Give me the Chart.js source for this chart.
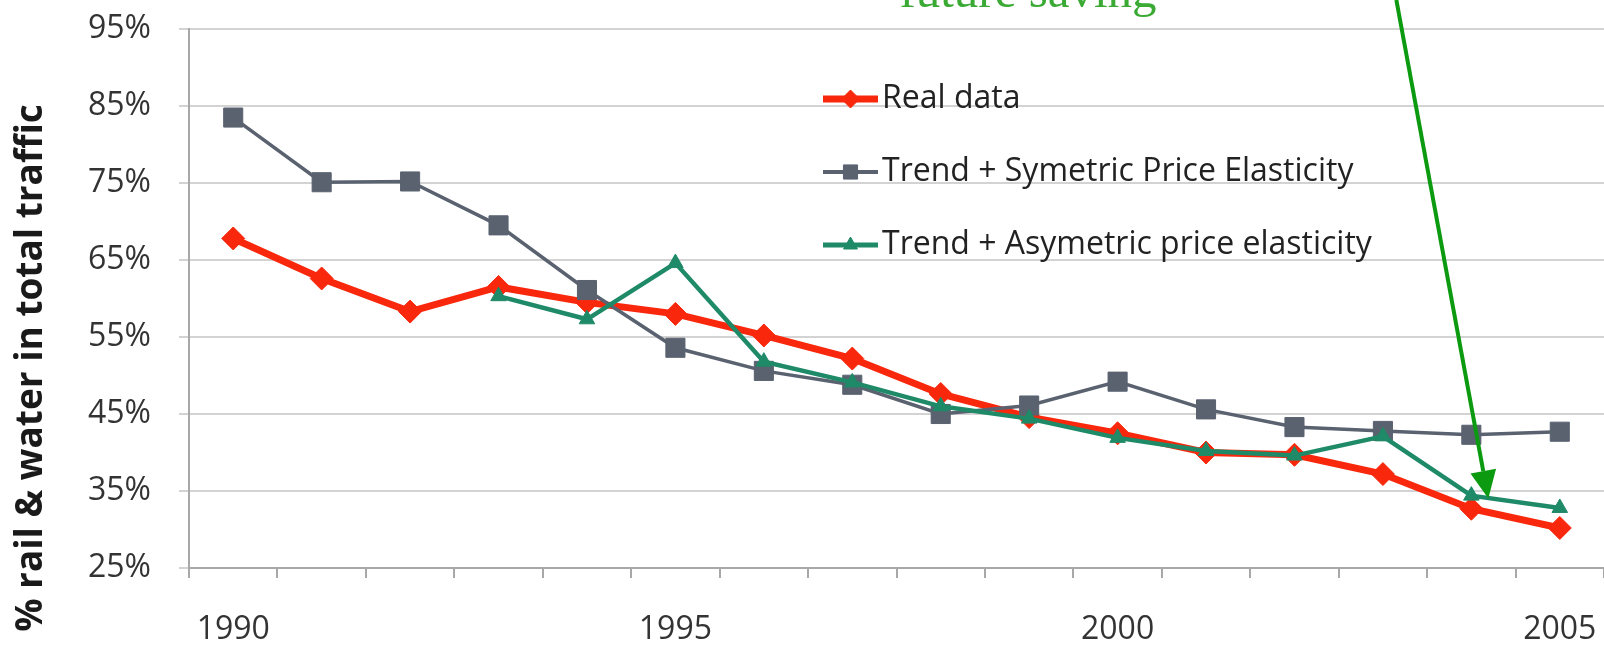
<!DOCTYPE html>
<html>
<head>
<meta charset="utf-8">
<title>Rail & water share of total traffic</title>
<script src="https://cdn.jsdelivr.net/npm/chart.js@4/dist/chart.umd.min.js"></script>
<style>
  html, body { margin: 0; padding: 0; background: #ffffff; }
  #wrap { width: 1604px; height: 648px; position: relative; }
</style>
</head>
<body>
<div id="wrap"><canvas id="chart" width="1604" height="648"></canvas></div>
<script>
// Years on the horizontal axis
const years = ['1990','1991','1992','1993','1994','1995','1996','1997',
               '1998','1999','2000','2001','2002','2003','2004','2005'];
// Years that carry a printed label
const labeledYears = ['1990', '1995', '2000', '2005'];

// Share of rail & water in total traffic (%)
const realData = [67.8, 62.6, 58.3, 61.5, 59.5, 58.0, 55.2, 52.2,
                  47.6, 44.6, 42.5, 40.0, 39.7, 37.2, 32.7, 30.2];
const symmetricElasticity = [83.5, 75.1, 75.2, 69.5, 61.1, 53.6, 50.6, 48.8,
                             45.0, 46.1, 49.2, 45.6, 43.3, 42.8, 42.3, 42.7];
const asymmetricElasticity = [null, null, null, 60.3, 57.3, 64.6, 51.8, 49.1,
                              46.0, 44.4, 41.9, 40.2, 39.6, 42.1, 34.4, 32.8];

// Value axis range and step (%)
const yMin = 25, yMax = 95, yStep = 10;

const seriesNames = ['Real data',
                     'Trend + Symetric Price Elasticity',
                     'Trend + Asymetric price elasticity'];
const axisTitle = '% rail & water in total traffic';
const noteText = 'future saving';
const noteYear = '2004';

const RED = '#f9280d';
const SLATE = '#5a6270';
const TEAL = '#1f8a67';
const NOTE_GREEN = '#0c9a10';

// Vertical axis title, drawn a little below the plot's midpoint
const axisTitlePlugin = {
  id: 'axisTitle',
  afterDraw(chart) {
    const ctx = chart.ctx;
    ctx.save();
    ctx.translate(31, 368);
    ctx.rotate(-Math.PI / 2);
    ctx.font = 'bold 37px "Open Sans", sans-serif';
    ctx.fillStyle = '#1a1a1a';
    ctx.textAlign = 'center';
    ctx.textBaseline = 'middle';
    ctx.fillText(axisTitle, 0, 0);
    ctx.restore();
  }
};

// Vertical legend placed inside the plot area
const insideLegendPlugin = {
  id: 'insideLegend',
  afterDraw(chart) {
    const ctx = chart.ctx;
    const x0 = 823, x1 = 878, rows = [99, 172, 245];
    const marks = [
      { style: 'rectRot', radius: 9, line: 7 },
      { style: 'rect', radius: 10, line: 4 },
      { style: 'triangle', radius: 8, line: 5 }
    ];
    chart.data.datasets.forEach((ds, i) => {
      const y = rows[i];
      ctx.save();
      ctx.strokeStyle = ds.borderColor;
      ctx.lineWidth = marks[i].line;
      ctx.beginPath();
      ctx.moveTo(x0, y);
      ctx.lineTo(x1, y);
      ctx.stroke();
      ctx.fillStyle = ds.borderColor;
      ctx.strokeStyle = ds.borderColor;
      ctx.lineWidth = 1;
      Chart.helpers.drawPoint(ctx, { pointStyle: marks[i].style, radius: marks[i].radius, rotation: 0, borderWidth: 1 },
        (x0 + x1) / 2, y);
      ctx.font = '32px "Open Sans", sans-serif';
      ctx.fillStyle = '#222222';
      ctx.textAlign = 'left';
      ctx.textBaseline = 'middle';
      ctx.fillText(ds.label, x1 + 4, y);
      ctx.restore();
    });
  }
};

// Green note with an arrow pointing to the asymmetric model's 2004 point
const notePlugin = {
  id: 'note',
  afterDraw(chart) {
    const ctx = chart.ctx;
    const xs = chart.scales.x, ys = chart.scales.y;
    const idx = years.indexOf(noteYear);
    const tipX = xs.getPixelForValue(idx) + 17;
    const tipY = ys.getPixelForValue(asymmetricElasticity[idx]) + 3;
    const startX = tipX - 92, startY = 0;
    const ang = Math.atan2(tipY - startY, tipX - startX);
    const headLen = 28, headHalf = 13;
    const baseX = tipX - headLen * Math.cos(ang);
    const baseY = tipY - headLen * Math.sin(ang);
    ctx.save();
    ctx.strokeStyle = NOTE_GREEN;
    ctx.fillStyle = NOTE_GREEN;
    ctx.lineWidth = 4;
    ctx.beginPath();
    ctx.moveTo(startX, startY);
    ctx.lineTo(baseX, baseY);
    ctx.stroke();
    ctx.beginPath();
    ctx.moveTo(tipX, tipY);
    ctx.lineTo(baseX + headHalf * Math.sin(ang), baseY - headHalf * Math.cos(ang));
    ctx.lineTo(baseX - headHalf * Math.sin(ang), baseY + headHalf * Math.cos(ang));
    ctx.closePath();
    ctx.fill();
    ctx.font = '49px "Liberation Serif", serif';
    ctx.fillStyle = '#3aaa35';
    ctx.textAlign = 'center';
    ctx.textBaseline = 'alphabetic';
    ctx.fillText(noteText, 1028, 7);
    ctx.restore();
  }
};

new Chart(document.getElementById('chart'), {
  type: 'line',
  data: {
    labels: years,
    datasets: [
      {
        label: seriesNames[0],
        data: realData,
        borderColor: RED,
        backgroundColor: RED,
        borderWidth: 7,
        pointStyle: 'rectRot',
        pointRadius: 11.5,
        pointBorderWidth: 1,
        order: 3
      },
      {
        label: seriesNames[1],
        data: symmetricElasticity,
        borderColor: SLATE,
        backgroundColor: SLATE,
        borderWidth: 3.5,
        pointStyle: 'rect',
        pointRadius: 13.5,
        pointBorderWidth: 1,
        order: 2
      },
      {
        label: seriesNames[2],
        data: asymmetricElasticity,
        borderColor: TEAL,
        backgroundColor: TEAL,
        borderWidth: 4.5,
        pointStyle: 'triangle',
        pointRadius: 9,
        pointBorderWidth: 1,
        order: 1
      }
    ]
  },
  options: {
    responsive: false,
    animation: false,
    spanGaps: false,
    layout: { autoPadding: false, padding: { top: 29, right: 0, left: 0, bottom: 0 } },
    plugins: {
      legend: { display: false },
      tooltip: { enabled: false }
    },
    scales: {
      x: {
        type: 'category',
        offset: true,
        grid: {
          offset: true,
          drawOnChartArea: false,
          drawTicks: true,
          tickLength: 10,
          color: '#a8a8a8',
          lineWidth: 2
        },
        border: { display: true, color: '#a8a8a8', width: 2 },
        ticks: {
          autoSkip: false,
          maxRotation: 0,
          padding: 33,
          color: '#333333',
          font: { family: '"Open Sans", sans-serif', size: 32 },
          callback(value) {
            const lab = this.getLabelForValue(value);
            return labeledYears.includes(lab) ? lab : '';
          }
        },
        afterFit(scale) {
          scale.height = 80;
          scale.paddingLeft = 0;
          scale.paddingRight = 0;
        }
      },
      y: {
        min: yMin,
        max: yMax,
        grid: {
          color: '#d3d3d3',
          lineWidth: 2,
          drawTicks: true,
          tickLength: 10
        },
        border: { display: true, color: '#a8a8a8', width: 2 },
        ticks: {
          stepSize: yStep,
          padding: 28,
          color: '#333333',
          font: { family: '"Open Sans", sans-serif', size: 32 },
          callback(v) { return v + '%'; }
        },
        afterFit(scale) {
          scale.width = 189;
          scale.paddingTop = 0;
          scale.paddingBottom = 0;
        }
      }
    }
  },
  plugins: [axisTitlePlugin, insideLegendPlugin, notePlugin]
});
</script>
</body>
</html>
